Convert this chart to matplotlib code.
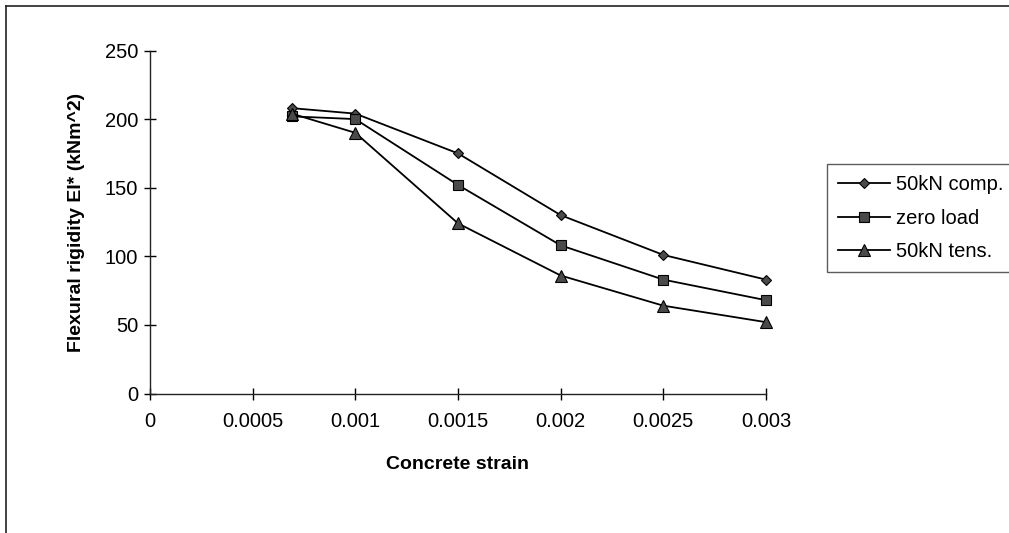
import matplotlib
matplotlib.use("Agg")
import matplotlib.pyplot as plt
from matplotlib.lines import Line2D

plt.rcParams['font.family'] = ['Liberation Sans', 'DejaVu Sans']

# Concrete strain values
strain = [0.00069, 0.001, 0.0015, 0.002, 0.0025, 0.003]

# Flexural rigidity EI* (kNm^2) per axial load case
comp_50kN = [208, 204, 175, 130, 101, 83]
zero_load = [202, 200, 152, 108, 83, 68]
tens_50kN = [204, 190, 124, 86, 64, 52]

series_labels = ["50kN comp.", "zero load", "50kN tens."]
x_ticks = [0, 0.0005, 0.001, 0.0015, 0.002, 0.0025, 0.003]
x_tick_labels = ["0", "0.0005", "0.001", "0.0015", "0.002", "0.0025", "0.003"]
y_ticks = [0, 50, 100, 150, 200, 250]

W, H = 1009, 533
fig = plt.figure(figsize=(W / 100, H / 100), dpi=100)
ax = fig.add_axes([150 / W, 1 - 393.5 / H, (766 - 150) / W, (393.5 - 50.5) / H])

line_kw = dict(color="black", linewidth=1.3, markeredgecolor="black",
               markerfacecolor="#4a4a4a", markeredgewidth=0.8, clip_on=False)
ax.plot(strain, comp_50kN, marker="D", markersize=5, label=series_labels[0], **line_kw)
ax.plot(strain, zero_load, marker="s", markersize=7, label=series_labels[1], **line_kw)
ax.plot(strain, tens_50kN, marker="^", markersize=8, label=series_labels[2], **line_kw)

ax.set_xlim(0, 0.003)
ax.set_ylim(0, 250)
ax.set_xticks(x_ticks)
ax.set_xticklabels(x_tick_labels)
ax.set_yticks(y_ticks)

for side in ("top", "right"):
    ax.spines[side].set_visible(False)
for side in ("left", "bottom"):
    ax.spines[side].set_linewidth(1.0)
    ax.spines[side].set_color("#222222")

ax.tick_params(axis="x", direction="inout", length=9, width=1.0, labelsize=14.5, pad=9)
ax.tick_params(axis="y", direction="inout", length=9, width=1.0, labelsize=14.5, pad=4)

ax.set_xlabel("Concrete strain", fontsize=14, fontweight="bold", labelpad=18)
ax.set_ylabel("Flexural rigidity EI* (kNm^2)", fontsize=14, fontweight="bold", labelpad=14)

leg = fig.legend(loc="upper left", bbox_to_anchor=(827 / W, 1 - 164 / H),
                 bbox_transform=fig.transFigure, frameon=True, fancybox=False,
                 edgecolor="#333333", fontsize=14.5, handlelength=2.6,
                 handletextpad=0.3, labelspacing=0.72, borderpad=0.55,
                 borderaxespad=0)
leg.get_frame().set_linewidth(1.0)

# Outer chart frame (top and left edges)
fig.add_artist(Line2D([6 / W, 1.0], [1 - 6 / H, 1 - 6 / H], transform=fig.transFigure,
                      color="#222222", linewidth=1.2))
fig.add_artist(Line2D([6 / W, 6 / W], [1 - 6 / H, 0.0], transform=fig.transFigure,
                      color="#222222", linewidth=1.2))

fig.savefig("out.png", dpi=100)
